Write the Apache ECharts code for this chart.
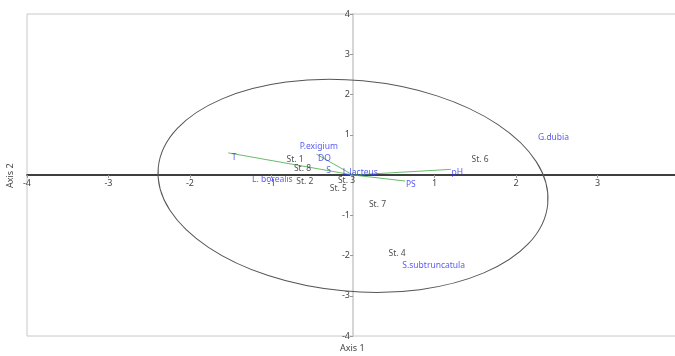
<!DOCTYPE html>
<html><head><meta charset="utf-8">
<script src="https://cdn.jsdelivr.net/npm/echarts@6/dist/echarts.min.js"></script>
<style>html,body{margin:0;padding:0;background:#fff}#c{width:675px;height:356px}</style>
</head><body><div id="c"></div>
<script>
// axis ticks
const xTicks = [-4, -3, -2, -1, 0, 1, 2, 3, 4];
const yTicks = [-4, -3, -2, -1, 0, 1, 2, 3, 4];

// sample (station) scores
const stationNames = ['St. 1', 'St. 2', 'St. 3', 'St. 4', 'St. 5', 'St. 6', 'St. 7', 'St. 8'];
const stationX = [-0.71, -0.59, -0.08, 0.54, -0.18, 1.56, 0.30, -0.62];
const stationY = [0.38, -0.16, -0.13, -1.95, -0.34, 0.38, -0.74, 0.15];

// species / variable labels (blue)
const speciesNames = ['P.exigium', 'DO', 'S', 'L.lacteus', 'T', 'L. borealis', 'PS', 'pH', 'G.dubia', 'S.subtruncatula'];
const speciesX = [-0.42, -0.35, -0.30, 0.09, -1.46, -0.99, 0.71, 1.28, 2.46, 0.99];
const speciesY = [0.70, 0.41, 0.11, 0.06, 0.44, -0.12, -0.24, 0.05, 0.92, -2.26];

// environmental vectors (from origin)
const vectorNames = ['T', 'DO', 'pH', 'PS'];
const vectorX = [-1.53, -0.45, 1.20, 0.64];
const vectorY = [0.55, 0.52, 0.14, -0.15];

// confidence ellipse: centre, semi-axes (data units), tilt (deg, clockwise on screen)
const ellipseCenter = [0, -0.27];
const ellipseRadii = [2.40, 2.62];
const ellipseTilt = [5.3];

const W = 675, H = 356;
const gridL = 27, gridR = -4, gridT = 14, gridB = 20;
const gridW = W - gridL - gridR, gridH = H - gridT - gridB;
const FONT = 'Noto Sans';

const chart = echarts.init(document.getElementById('c'), null, {renderer: 'canvas'});

const vectorSeries = vectorNames.map((n, i) => ({
  type: 'line', name: n, silent: true, showSymbol: false, symbol: 'none',
  data: [[0, 0], [vectorX[i], vectorY[i]]],
  lineStyle: {color: '#4fae4f', width: 1, opacity: 0.85},
  z: 3
}));

const option = {
  animation: false,
  backgroundColor: '#fff',
  grid: {left: gridL, right: gridR, top: gridT, bottom: gridB, show: true,
    borderColor: '#c8c8c8', borderWidth: 1, outerBoundsMode: 'none', containLabel: false},
  xAxis: {
    type: 'value', min: xTicks[0], max: xTicks[xTicks.length - 1], interval: 1,
    position: 'bottom', offset: -gridH / 2,
    splitLine: {show: false},
    axisLine: {onZero: false, lineStyle: {color: '#000', width: 1.5}},
    axisTick: {show: true, inside: false, length: 3, lineStyle: {color: '#999'}},
    axisLabel: {color: '#444', fontSize: 9, fontFamily: FONT, margin: 4,
      formatter: v => (v === 0 ? '' : String(v))}
  },
  yAxis: {
    type: 'value', min: yTicks[0], max: yTicks[yTicks.length - 1], interval: 1,
    position: 'left', offset: -gridW / 2,
    splitLine: {show: false},
    axisLine: {onZero: false, lineStyle: {color: '#c8c8c8', width: 1.5}},
    axisTick: {show: true, length: 3, lineStyle: {color: '#999'}},
    axisLabel: {color: '#444', fontSize: 9, fontFamily: FONT, margin: 3,
      formatter: v => (v === 0 ? '' : String(v))}
  },
  graphic: [
    {type: 'text', left: 340, top: 344, style: {text: 'Axis 1', fill: '#444', font: '9px "Noto Sans"'}},
    {type: 'text', x: 6, y: 188, rotation: Math.PI / 2, style: {text: 'Axis 2', fill: '#444', font: '9px "Noto Sans"'}}
  ],
  series: [
    {
      type: 'custom', silent: true, z: 2,
      data: [[ellipseCenter[0], ellipseCenter[1], ellipseRadii[0], ellipseRadii[1], ellipseTilt[0]]],
      renderItem: function (params, api) {
        const c = api.coord([api.value(0), api.value(1)]);
        const s = api.size([api.value(2), api.value(3)]);
        return {
          type: 'ellipse', x: c[0], y: c[1], rotation: -api.value(4) * Math.PI / 180,
          shape: {cx: 0, cy: 0, rx: s[0], ry: s[1]},
          style: {fill: 'none', stroke: '#555', lineWidth: 1}
        };
      }
    },
    ...vectorSeries,
    {
      type: 'scatter', silent: true, symbolSize: 1, itemStyle: {color: 'rgba(0,0,0,0)'}, z: 5,
      data: stationNames.map((n, i) => ({name: n, value: [stationX[i], stationY[i]]})),
      label: {show: true, position: 'inside', formatter: p => p.name, color: '#222', fontSize: 8.5, fontFamily: FONT}
    },
    {
      type: 'scatter', silent: true, symbolSize: 1, itemStyle: {color: 'rgba(0,0,0,0)'}, z: 6,
      data: speciesNames.map((n, i) => ({name: n, value: [speciesX[i], speciesY[i]]})),
      label: {show: true, position: 'inside', formatter: p => p.name, color: '#3030f0', fontSize: 8.5, fontFamily: FONT}
    }
  ]
};
chart.setOption(option);
</script></body></html>
